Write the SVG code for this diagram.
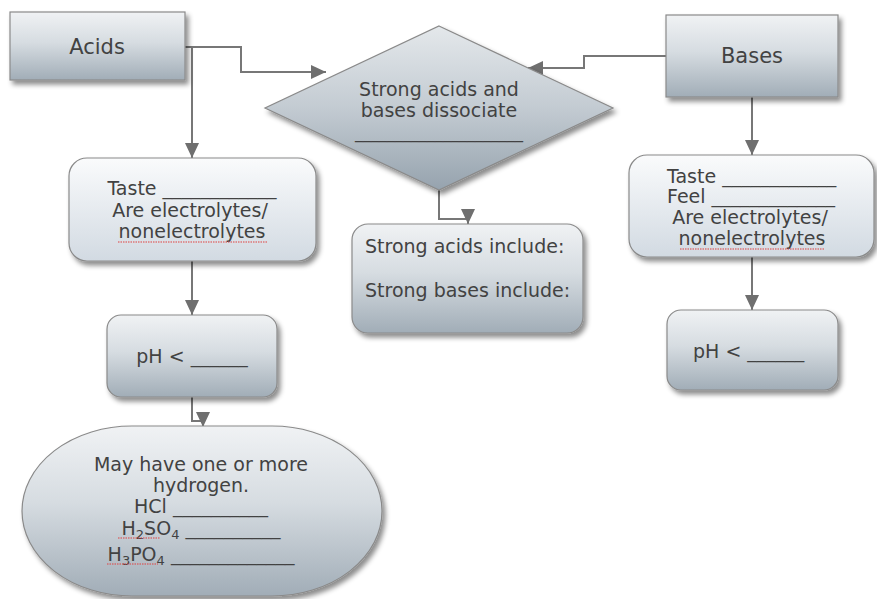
<svg xmlns="http://www.w3.org/2000/svg" width="877" height="599" viewBox="0 0 877 599">
<defs>
<linearGradient id="gDark" x1="0" y1="0" x2="0" y2="1">
<stop offset="0" stop-color="#f0f2f4"/>
<stop offset="0.45" stop-color="#d6dce1"/>
<stop offset="1" stop-color="#a1adb7"/>
</linearGradient>
<linearGradient id="gDiam" x1="0" y1="0" x2="0" y2="1">
<stop offset="0" stop-color="#e4e8eb"/>
<stop offset="0.5" stop-color="#c3cbd2"/>
<stop offset="1" stop-color="#96a3ae"/>
</linearGradient>
<linearGradient id="gLight" x1="0" y1="0" x2="0" y2="1">
<stop offset="0" stop-color="#fafbfc"/>
<stop offset="1" stop-color="#d2dae2"/>
</linearGradient>
<filter id="sh" x="-10%" y="-10%" width="125%" height="130%">
<feDropShadow dx="3" dy="4" stdDeviation="2.5" flood-color="#000" flood-opacity="0.45"/>
</filter>
<marker id="arr" markerUnits="userSpaceOnUse" markerWidth="18" markerHeight="18" viewBox="0 0 18 18" refX="16" refY="9" orient="auto">
<path d="M1,2 L16,9 L1,16 Z" fill="#6f6f6f"/>
</marker>
<style>
.box{stroke:#8a8a8a;stroke-width:1.2;filter:url(#sh)}
.dark{fill:url(#gDark)}
.light{fill:url(#gLight)}
.t{font-family:"DejaVu Sans","Verdana",sans-serif;font-size:19px;fill:#424242}
.big{font-size:21px}
.small{font-size:16px}
.c{text-anchor:middle}
.con{fill:none;stroke:#777;stroke-width:2}
.sq{fill:none;stroke:#e04040;stroke-width:1.2;stroke-dasharray:1.5 1}
</style>
</defs>

<g id="connectors">
<path class="con" d="M185,47 H241 V72 H326" marker-end="url(#arr)"/>
<path class="con" d="M192,47 V158" marker-end="url(#arr)"/>
<path class="con" d="M192,261 V315" marker-end="url(#arr)"/>
<path class="con" d="M192,397 V421 H203 V427" marker-end="url(#arr)"/>
<path class="con" d="M439,190 V219 H468 V224" marker-end="url(#arr)"/>
<path class="con" d="M666,56 H584 V68 H528" marker-end="url(#arr)"/>
<path class="con" d="M752,97 V155" marker-end="url(#arr)"/>
<path class="con" d="M752,257 V310" marker-end="url(#arr)"/>
</g>

<g id="acids">
<rect class="box dark" x="10" y="12" width="175" height="68"/>
<text class="t big c" x="97" y="54">Acids</text>
</g>

<g id="bases">
<rect class="box dark" x="666" y="15" width="172" height="82"/>
<text class="t big c" x="752" y="63">Bases</text>
</g>

<g id="dissociate">
<polygon class="box" fill="url(#gDiam)" points="439,26 613,108 439,190 265,108"/>
<text class="t c" x="439" y="96">Strong acids and</text>
<text class="t c" x="439" y="117">bases dissociate</text>
<text class="t small c" x="439" y="138">_____________________</text>
</g>

<g id="acid-props">
<rect class="box light" x="69" y="158" width="247" height="103" rx="18"/>
<text class="t c" x="192" y="195">Taste ____________</text>
<text class="t c" x="190" y="217">Are electrolytes/</text>
<text class="t c" x="192" y="238">nonelectrolytes</text>
<path class="sq" d="M118,242 H267"/>
</g>

<g id="strong-list">
<rect class="box dark" x="352" y="224" width="231" height="109" rx="16"/>
<text class="t" x="365" y="253">Strong acids include:</text>
<text class="t" x="365" y="297">Strong bases include:</text>
</g>

<g id="base-props">
<rect class="box light" x="629" y="155" width="245" height="102" rx="18"/>
<text class="t" x="667" y="183">Taste ____________</text>
<text class="t" x="667" y="203">Feel _____________</text>
<text class="t c" x="750" y="224">Are electrolytes/</text>
<text class="t c" x="752" y="245">nonelectrolytes</text>
<path class="sq" d="M680,249 H825"/>
</g>

<g id="acid-ph">
<rect class="box dark" x="107" y="315" width="170" height="82" rx="14"/>
<text class="t c" x="192" y="363">pH &lt; ______</text>
</g>

<g id="base-ph">
<rect class="box dark" x="667" y="310" width="171" height="80" rx="14"/>
<text class="t" x="693" y="358">pH &lt; ______</text>
</g>

<g id="hydrogen">
<rect class="box dark" x="22" y="426" width="360" height="170" rx="110" ry="85"/>
<text class="t c" x="201" y="471">May have one or more</text>
<text class="t c" x="201" y="492">hydrogen.</text>
<text class="t c" x="201" y="513">HCl __________</text>
<text class="t c" x="201" y="535">H<tspan dy="4" font-size="13">2</tspan><tspan dy="-4">SO</tspan><tspan dy="4" font-size="13">4</tspan><tspan dy="-4"> __________</tspan></text>
<text class="t c" x="201" y="561">H<tspan dy="4" font-size="13">3</tspan><tspan dy="-4">PO</tspan><tspan dy="4" font-size="13">4</tspan><tspan dy="-4"> _____________</tspan></text>
<path class="sq" d="M118,538 H160"/>
<path class="sq" d="M107,564 H158"/>
</g>
</svg>
